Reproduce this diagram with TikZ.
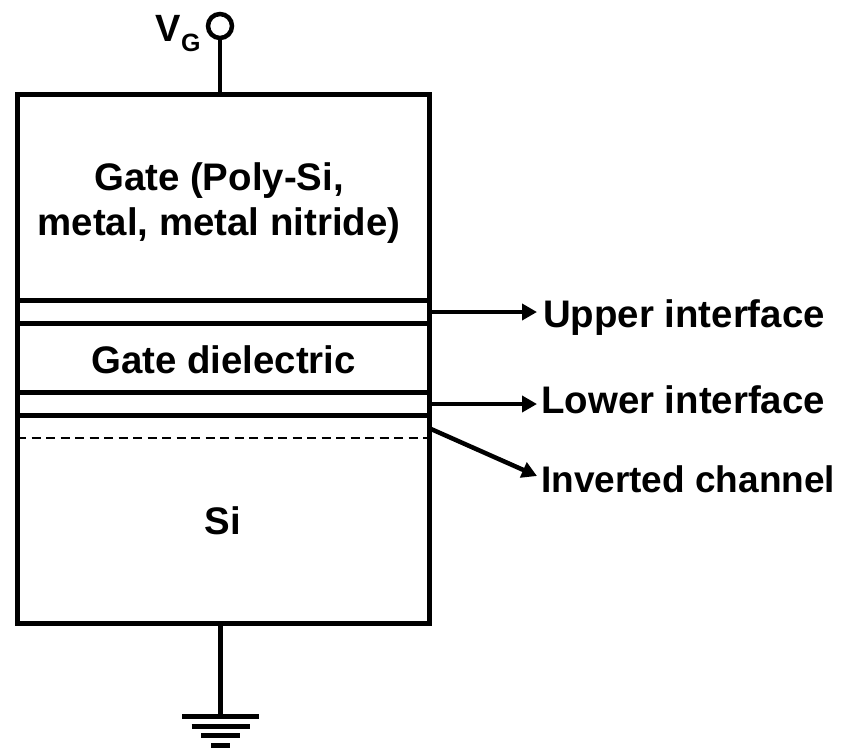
\documentclass[tikz,border=0pt]{standalone}
\usepackage{fontspec}
\setmainfont{Liberation Sans}
\usetikzlibrary{arrows.meta}
\tikzset{
  heavy/.style={line width=5pt},
  conn/.style={line width=4.5pt},
  pointer/.style={line width=4.5pt,-{Triangle[length=15pt,width=16pt]}},
  lab/.style={font=\fontsize{38.4}{45}\selectfont\bfseries,inner sep=0pt,align=center},
  sidelab/.style={lab,anchor=base west},
}
\begin{document}
\begin{tikzpicture}[x=1pt,y=-1pt]
\useasboundingbox (0,0) rectangle (856,750);
\node[draw,heavy,outer sep=0pt,minimum width=412pt,minimum height=529pt,inner sep=0pt] (box) at (223,358.5) {};
\coordinate (u1l) at (17,300); \coordinate (u1r) at (429,300);
\coordinate (u2l) at (17,323); \coordinate (u2r) at (429,323);
\coordinate (l1l) at (17,392); \coordinate (l1r) at (429,392);
\coordinate (l2l) at (17,415); \coordinate (l2r) at (429,415);
\coordinate (dl) at (17,438); \coordinate (dr) at (429,438);
\draw[heavy] (u1l) -- (u1r);
\draw[heavy] (u2l) -- (u2r);
\draw[heavy] (l1l) -- (l1r);
\draw[heavy] (l2l) -- (l2r);
\draw[line width=2pt,dash pattern=on 9pt off 5.5pt] (dl) -- (dr);
% labels
\node[lab] (gate) at (219,203) {Gate (Poly-Si,\\metal, metal nitride)};
\node[lab] (diel) at (223.5,360) {Gate dielectric};
\node[lab,anchor=base] (si) at (223,534) {Si};
\node[sidelab] (upper) at (543,327) {Upper interface};
\node[sidelab] (lower) at (541,413) {Lower interface};
\node[sidelab,font=\fontsize{37}{45}\selectfont\bfseries] (inv) at (541,492) {Inverted channel};
% arrows
\coordinate (a1) at (431,312); \coordinate (a1e) at (537,312);
\coordinate (a2) at (431,404); \coordinate (a2e) at (537,404);
\coordinate (a3) at (431,429); \coordinate (a3e) at (537,476);
\draw[pointer] (a1) -- (a1e);
\draw[pointer] (a2) -- (a2e);
\draw[pointer] (a3) -- (a3e);
% terminal
\node[draw,circle,line width=4.5pt,outer sep=0pt,minimum size=24pt,inner sep=0pt] (term) at (220,26) {};
\draw[conn] (term.south) -- (220,94);
\node[inner sep=0pt,anchor=base west,font=\fontsize{38}{45}\selectfont\bfseries] (vg) at (155,41) {V};
\node[inner sep=0pt,anchor=base west,font=\fontsize{25}{30}\selectfont\bfseries] (vgs) at (181,51) {G};
% ground
\coordinate (g0) at (220.5,623); \coordinate (g1) at (220.5,716);
\draw[conn] (g0) -- (g1);
\draw[heavy] (182,716.5) -- (259,716.5);
\draw[heavy] (191.5,726) -- (249.5,726);
\draw[heavy] (201,735.5) -- (240,735.5);
\draw[heavy] (211,745) -- (230,745);
\end{tikzpicture}
\end{document}
